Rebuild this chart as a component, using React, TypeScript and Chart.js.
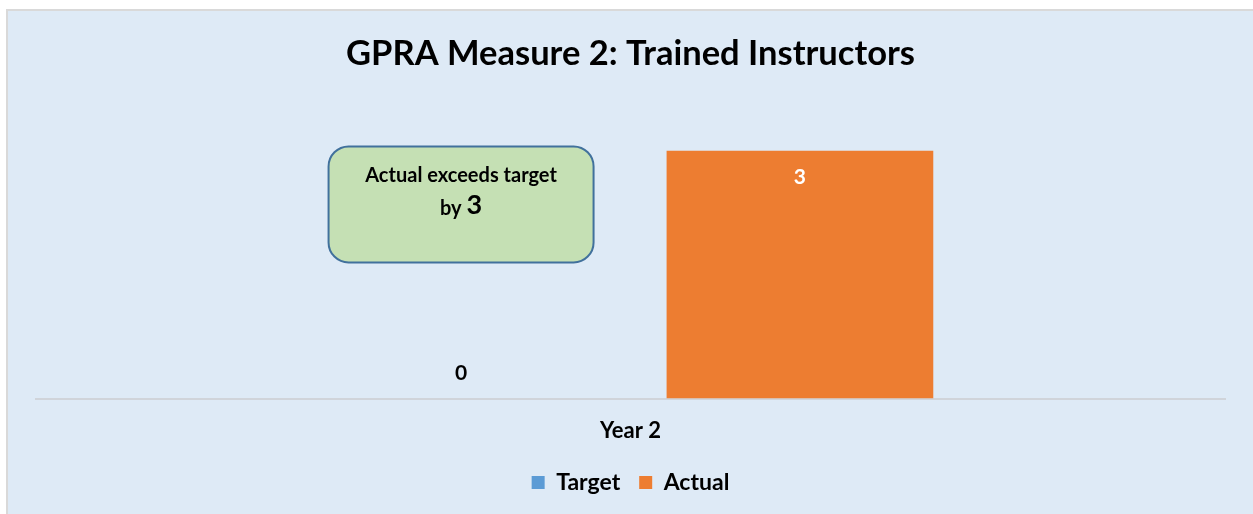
import { useEffect, useRef } from "react";
import { Chart, registerables } from "chart.js";

Chart.register(...registerables);

const categories = ["Year 2"];
const seriesNames = ["Target", "Actual"];
const targetValues = [0];
const actualValues = [3];
const seriesColors = ["#5B9BD5", "#ED7D31"];
const titleText = "GPRA Measure 2: Trained Instructors";
const calloutLine1 = "Actual exceeds target";
const calloutPrefix = "by ";
const calloutValue = "3";

const FONT = "Lato, 'Open Sans', sans-serif";

const dataLabelPlugin = {
  id: "dataLabels",
  afterDatasetsDraw(chart: any) {
    const ctx = chart.ctx;
    ctx.save();
    ctx.font = `bold 21px ${FONT}`;
    ctx.textAlign = "center";
    ctx.textBaseline = "middle";
    chart.data.datasets.forEach((ds: any, di: number) => {
      const meta = chart.getDatasetMeta(di);
      meta.data.forEach((bar: any, i: number) => {
        const v = ds.data[i];
        if (v > 0) {
          ctx.fillStyle = "#FFFFFF";
          ctx.fillText(String(v), bar.x, bar.y + 27);
        } else {
          ctx.fillStyle = "#000000";
          ctx.fillText(String(v), bar.x, bar.base - 25);
        }
      });
    });
    ctx.restore();
  },
};

const calloutPlugin = {
  id: "callout",
  afterDatasetsDraw(chart: any) {
    const ctx = chart.ctx;
    const bar = chart.getDatasetMeta(0).data[0];
    const cx = bar.x;
    const top = chart.chartArea.top - 4;
    const w = 265;
    const h = 116;
    ctx.save();
    ctx.beginPath();
    ctx.roundRect(cx - w / 2, top, w, h, 20);
    ctx.fillStyle = "#C5E0B4";
    ctx.fill();
    ctx.lineWidth = 2;
    ctx.strokeStyle = "#41719C";
    ctx.stroke();
    ctx.fillStyle = "#000000";
    ctx.textBaseline = "middle";
    ctx.textAlign = "center";
    ctx.font = `bold 20px ${FONT}`;
    ctx.fillText(calloutLine1, cx, top + 29);
    const w1 = ctx.measureText(calloutPrefix).width;
    ctx.font = `bold 27px ${FONT}`;
    const w2 = ctx.measureText(calloutValue).width;
    const start = cx - (w1 + w2) / 2;
    ctx.textAlign = "left";
    ctx.font = `bold 20px ${FONT}`;
    ctx.fillText(calloutPrefix, start, top + 62);
    ctx.font = `bold 27px ${FONT}`;
    ctx.fillText(calloutValue, start + w1, top + 59);
    ctx.restore();
  },
};

export default function App() {
  const canvasRef = useRef<HTMLCanvasElement | null>(null);

  useEffect(() => {
    if (!canvasRef.current) return;
    const chart = new Chart(canvasRef.current, {
      type: "bar",
      data: {
        labels: categories,
        datasets: [
          {
            label: seriesNames[0],
            data: targetValues,
            backgroundColor: seriesColors[0],
            categoryPercentage: 0.57,
            barPercentage: 0.787,
          },
          {
            label: seriesNames[1],
            data: actualValues,
            backgroundColor: seriesColors[1],
            categoryPercentage: 0.57,
            barPercentage: 0.787,
          },
        ],
      },
      options: {
        responsive: false,
        animation: false,
        devicePixelRatio: 1,
        layout: { padding: { top: 9, left: 36, right: 28, bottom: 10 } },
        plugins: {
          title: {
            display: true,
            text: titleText,
            color: "#000000",
            font: { family: FONT, size: 34.5, weight: "bold" },
            padding: { top: 24, bottom: 76 },
          },
          legend: {
            position: "bottom",
            labels: {
              boxWidth: 13,
              boxHeight: 13,
              color: "#000000",
              font: { family: FONT, size: 23, weight: "bold" },
              padding: 19,
            },
          },
          tooltip: { enabled: false },
        },
        scales: {
          x: {
            grid: { display: false, drawTicks: false },
            border: { display: true, color: "#D0D4DA", width: 2 },
            ticks: {
              color: "#000000",
              font: { family: FONT, size: 22, weight: "bold" },
              padding: 19,
            },
            afterFit: (scale: any) => {
              scale.height -= 11;
            },
          },
          y: { display: false, min: 0, max: 3 },
        },
      },
      plugins: [dataLabelPlugin, calloutPlugin],
    });
    return () => chart.destroy();
  }, []);

  return (
    <div
      style={{
        position: "fixed",
        left: 0,
        top: 0,
        width: 1253,
        height: 514,
        background: "#FFFFFF",
        overflow: "hidden",
      }}
    >
      <div
        style={{
          position: "absolute",
          left: 6,
          top: 9,
          width: 1300,
          height: 600,
          background: "#DEEAF6",
          borderLeft: "2px solid #D9D9D9",
          borderTop: "2px solid #D9D9D9",
        }}
      />
      <canvas
        ref={canvasRef}
        width={1253}
        height={514}
        style={{ position: "absolute", left: 0, top: 0, width: 1253, height: 514 }}
      />
    </div>
  );
}
